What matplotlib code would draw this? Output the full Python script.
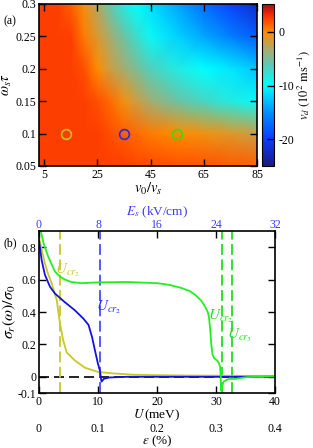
import numpy as np
import matplotlib
matplotlib.use("Agg")
import matplotlib.pyplot as plt
from matplotlib.colors import LinearSegmentedColormap

plt.rcParams['font.family'] = ['Liberation Serif', 'DejaVu Serif']
plt.rcParams['mathtext.fontset'] = 'stix'
plt.rcParams['axes.unicode_minus'] = False

# ---- panel (a) data ----
v_ratio = [3, 10, 15, 20, 25, 30, 35, 40, 45, 55, 65, 75, 85]
omega_tau = [0.05, 0.10, 0.15, 0.20, 0.25, 0.30]
vd_row_005 = [2.5, 2.5, 2.5, 2.5, 2.5, 2.5, 2.5, 2.3, 2.2, 2.0, 1.8, 1.6, 1.5]
vd_row_010 = [2.5, 2.5, 2.5, 2.5, 2.5, 2.0, 1.5, 1.0, 0.5, 0.0, -0.5, -1.2, -2.0]
vd_row_015 = [2.5, 2.5, 2.5, 2.5, 2.0, 1.0, -0.5, -2.0, -3.5, -5.5, -7.0, -8.5, -9.5]
vd_row_020 = [2.5, 2.5, 2.5, 2.0, 0.0, -2.0, -3.5, -5.0, -6.5, -8.5, -10.0, -11.0, -12.5]
vd_row_025 = [2.5, 2.5, 2.5, 0.5, -1.5, -3.5, -5.5, -7.5, -9.5, -12.0, -14.0, -16.0, -18.0]
vd_row_030 = [2.5, 2.5, 1.5, -0.5, -3.0, -6.0, -8.5, -10.0, -11.5, -14.0, -17.0, -19.5, -22.0]
marker_x = [13, 35, 55]
marker_y = [0.1, 0.1, 0.1]
marker_colors = ['#c8c020', '#2a2ae0', '#33dd11']

# ---- panel (b) data ----
U_yellow = [0, 0.5, 1.0, 1.5, 2.15, 3.0, 3.56, 4.1, 4.7, 6.1, 7.8, 10, 12.9, 16, 20, 25, 30, 35, 40]
S_yellow = [0.86, 0.78, 0.70, 0.64, 0.577, 0.475, 0.327, 0.225, 0.15, 0.10, 0.056, 0.03, 0.02, 0.013, 0.01, 0.008, 0.007, 0.006, 0.006]
U_blue = [0, 0.45, 1.0, 1.86, 2.7, 4.4, 6.1, 7.5, 8.4, 9.0, 9.5, 9.95, 10.34, 10.5, 10.6, 11.0, 12.0, 15, 20, 30, 40]
S_blue = [0.84, 0.72, 0.63, 0.556, 0.514, 0.46, 0.41, 0.36, 0.32, 0.244, 0.16, 0.087, 0.035, -0.01, -0.03, -0.012, -0.004, 0.0, 0.0, 0.0, 0.0]
U_green = [0, 0.3, 0.8, 1.58, 2.7, 3.5, 4.4, 5.5, 7.2, 10.2, 15, 20, 22, 24, 25.5, 26.5, 27.5, 28.2, 28.6, 28.8, 29.0, 29.2, 29.4, 29.7, 30.2, 30.5, 30.7, 30.8, 30.85, 31.0, 31.3, 31.8, 32.3, 33.0, 35.2, 40]
S_green = [0.95, 0.90, 0.82, 0.74, 0.65, 0.62, 0.60, 0.585, 0.578, 0.583, 0.585, 0.578, 0.568, 0.55, 0.53, 0.505, 0.47, 0.43, 0.40, 0.37, 0.30, 0.20, 0.14, 0.115, 0.10, 0.085, 0.06, 0.0, -0.085, -0.06, -0.03, -0.019, -0.012, -0.014, -0.002, 0.003]
U_cr_lines = [3.56, 10.3, 31.0, 32.7]
U_cr_colors = ['#c8c830', '#4a4aff', '#22dd22', '#22dd22']
U_ticks = [0, 10, 20, 30, 40]
E_ticks = [0, 8, 16, 24, 32]
eps_ticks = [0, 0.1, 0.2, 0.3, 0.4]

W, H = 313, 448
fig = plt.figure(figsize=(W / 100, H / 100), dpi=100)

def fr(l, t, r, b):
    return [l / W, 1 - b / H, (r - l) / W, (b - t) / H]

cmap = LinearSegmentedColormap.from_list('vd', [
    (0.0, '#1a1a80'), (0.166, '#0a3cff'), (0.331, '#0090ff'), (0.497, '#00ffff'),
    (0.63, '#60c8b0'), (0.728, '#b0a868'), (0.828, '#ff8c00'), (0.911, '#ff4000'),
    (0.96, '#dd1a10'), (1.0, '#8c1a1a')])

ax1 = fig.add_axes(fr(39, 4, 257, 166))
Z = np.array([vd_row_005, vd_row_010, vd_row_015, vd_row_020, vd_row_025, vd_row_030])
X, Y = np.meshgrid(v_ratio, omega_tau)
mesh = ax1.pcolormesh(X, Y, Z, shading='gouraud', cmap=cmap, vmin=-25, vmax=5.2)
for mx, my, mc in zip(marker_x, marker_y, marker_colors):
    ax1.plot(mx, my, 'o', mfc='none', mec=mc, ms=7, mew=1.2)
ax1.set_xlim(3, 85)
ax1.set_ylim(0.05, 0.3)
ax1.set_xticks([5, 25, 45, 65, 85])
ax1.set_yticks([0.05, 0.1, 0.15, 0.2, 0.25, 0.3])
ax1.set_yticklabels(['0.05', '0.1', '0.15', '0.2', '0.25', '0.3'])
ax1.tick_params(direction='in', top=True, right=True, labelsize=8.5, length=5, width=1, pad=2)
ax1.set_xlabel('$v_0/v_s$', fontsize=10.5, labelpad=0)
ax1.set_ylabel(r'$\omega_s\tau$', fontsize=10.5, labelpad=1)
for s in ax1.spines.values():
    s.set_linewidth(1.2)
fig.text(3 / W, 1 - 21 / H, '(a)', fontsize=8.5, va='center')

cax = fig.add_axes(fr(262, 4, 274, 166))
cb = fig.colorbar(mesh, cax=cax, ticks=[0, -10, -20])
cb.ax.tick_params(direction='in', length=5, width=1, labelsize=8.5, pad=3)
cb.outline.set_linewidth(0.8)
cb.set_label(r'$v_d\ (10^2\ \mathrm{ms}^{-1})$', fontsize=9, labelpad=1)

ax2 = fig.add_axes(fr(39, 231, 275, 393))
ax2.axhline(0, color='k', lw=1.2, dashes=(6, 3))
for xv, c in zip(U_cr_lines, U_cr_colors):
    ax2.axvline(xv, color=c, lw=1.3, dashes=(6, 2.5))
ax2.plot(U_yellow, S_yellow, color='#c8c828', lw=1.3)
ax2.plot(U_blue, S_blue, color='#1212e8', lw=1.3)
ax2.plot(U_green, S_green, color='#22ee22', lw=1.3)
ax2.set_xlim(0, 40)
ax2.set_ylim(-0.1, 0.9)
ax2.set_xticks(U_ticks)
ax2.set_yticks([-0.1, 0, 0.2, 0.4, 0.6, 0.8])
ax2.set_yticklabels(['-0.1', '0', '0.2', '0.4', '0.6', '0.8'])
ax2.tick_params(direction='in', top=True, right=True, labelsize=8.5, length=5, width=1, pad=2)
ax2.set_xlabel(r'$U\,$(meV)', fontsize=9.5, labelpad=-0.5)
ax2.set_ylabel(r'$\sigma_r(\omega)/\sigma_0$', fontsize=11.5, labelpad=0)
for s in ax2.spines.values():
    s.set_linewidth(1.2)

ax2.text(2.7, 0.656, '$U_{cr_2}$', color='#c8c830', fontsize=11, va='center')
ax2.text(9.7, 0.43, '$U_{cr_2}$', color='#2a2aff', fontsize=11, va='center')
ax2.text(28.6, 0.375, '$U_{cr_2}$', color='#22dd22', fontsize=11, va='center')
ax2.text(31.9, 0.256, '$U_{cr_3}$', color='#22dd22', fontsize=11, va='center')

top = ax2.secondary_xaxis('top', functions=(lambda u: u * 0.8, lambda e: e / 0.8))
top.set_xticks(E_ticks)
top.tick_params(length=0, labelsize=8.5, labelcolor='#3a3aff', pad=0)
top.spines['top'].set_visible(False)
top.set_xlabel(r'$E_s$ (kV/cm)', fontsize=9.5, color='#3a3aff', labelpad=3)

bot = ax2.secondary_xaxis(-0.165, functions=(lambda u: u / 100, lambda e: e * 100))
bot.set_xticks(eps_ticks)
bot.set_xticklabels(['0', '0.1', '0.2', '0.3', '0.4'])
bot.tick_params(length=0, labelsize=8.5, pad=2)
bot.spines['bottom'].set_visible(False)
bot.set_xlabel(r'$\epsilon$ (%)', fontsize=9.5, labelpad=-1)

fig.text(3 / W, 1 - 243 / H, '(b)', fontsize=8.5, va='center')

fig.savefig('out.png', dpi=100)
